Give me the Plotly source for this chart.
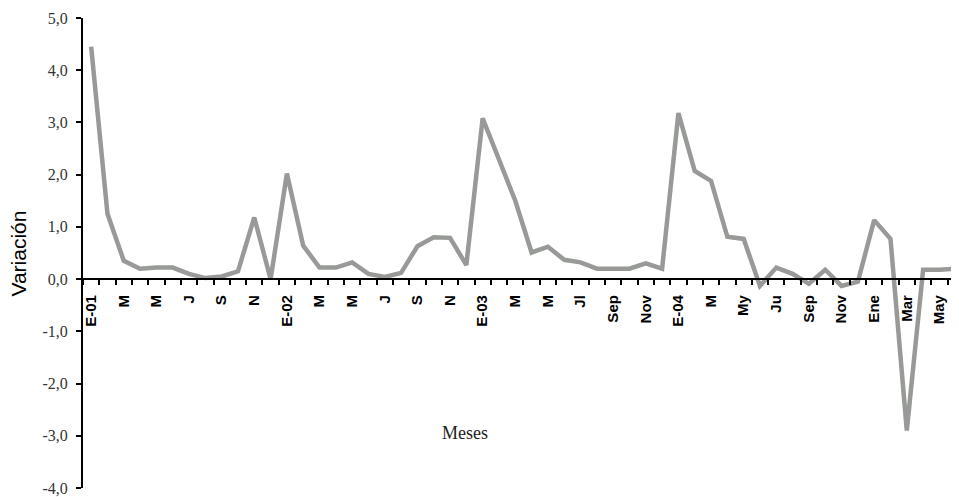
import plotly.graph_objects as go

# Monthly variation, Jan 2001 .. Jun 2005
values = [
    4.45, 1.25, 0.35, 0.20, 0.22, 0.22, 0.10, 0.02, 0.05, 0.15, 1.18, 0.00,   # 2001
    2.02, 0.64, 0.22, 0.22, 0.32, 0.10, 0.04, 0.12, 0.63, 0.80, 0.79, 0.27,   # 2002
    3.08, 2.30, 1.50, 0.51, 0.62, 0.37, 0.32, 0.20, 0.20, 0.20, 0.30, 0.20,   # 2003
    3.18, 2.07, 1.88, 0.81, 0.77, -0.13, 0.22, 0.10, -0.09, 0.18, -0.13, -0.05,  # 2004
    1.13, 0.77, -2.90, 0.18, 0.18, 0.20,                                      # 2005
]
month_index = list(range(len(values)))

# labels for every second month (Jan, Mar, May, ...)
tick_labels = ["E-01", "M", "M", "J", "S", "N",
               "E-02", "M", "M", "J", "S", "N",
               "E-03", "M", "M", "Jl", "Sep", "Nov",
               "E-04", "M", "My", "Ju", "Sep", "Nov",
               "Ene", "Mar", "May"]

# tick marks sit on the month boundaries; labels are shifted to the month centres
month_boundaries = [i - 0.5 for i in range(len(values) + 1)]
boundary_text = [tick_labels[i // 2] if (i % 2 == 0 and i // 2 < len(tick_labels)) else ""
                 for i in range(len(month_boundaries))]

y_ticks = [5, 4, 3, 2, 1, 0, -1, -2, -3, -4]
y_tick_labels = ["5,0", "4,0", "3,0", "2,0", "1,0", "0,0", "-1,0", "-2,0", "-3,0", "-4,0"]

fig = go.Figure()
fig.add_trace(go.Scatter(
    x=month_index, y=values, mode="lines",
    line=dict(color="#979a96", width=4.5),
    hoverinfo="skip", showlegend=False,
))

y_min, y_max = -4, 5
x_range = [-0.5, 53.2]
zero_pos = (0 - y_min) / (y_max - y_min)
px_per_month = 876 / (x_range[1] - x_range[0])

fig.update_layout(
    width=951, height=489,
    margin=dict(l=75, r=0, t=10, b=7),
    paper_bgcolor="white", plot_bgcolor="white",
    xaxis=dict(
        range=x_range,
        tickmode="array", tickvals=month_boundaries, ticktext=boundary_text,
        ticks="outside", ticklen=5, tickwidth=1.5, tickcolor="black",
        tickangle=-90,
        tickfont=dict(family="Arial", size=15, color="black", weight="bold"),
        ticklabelstandoff=4,
        ticklabelshift=int(round(px_per_month / 2)),
        ticklabeloverflow="allow",
        showline=True, linecolor="black", linewidth=2,
        showgrid=False, zeroline=False,
        anchor="free", position=zero_pos,
    ),
    yaxis=dict(
        range=[y_min, y_max],
        tickmode="array", tickvals=y_ticks, ticktext=y_tick_labels,
        ticks="outside", ticklen=5, tickwidth=1.5, tickcolor="black",
        tickfont=dict(family="Liberation Serif", size=16, color="#333333"),
        ticklabelstandoff=5,
        ticklabeloverflow="allow",
        showline=True, linecolor="black", linewidth=2,
        showgrid=False, zeroline=False,
    ),
    annotations=[
        dict(text="Variación", textangle=-90, xref="paper", yref="y",
             x=(10.5 - 75) / 876, y=0.48, xanchor="center", yanchor="middle",
             showarrow=False, font=dict(family="Arial", size=21, color="black")),
        dict(text="Meses", xref="x", yref="y", x=22.9, y=-2.95,
             showarrow=False, font=dict(family="Liberation Serif", size=18, color="#222222")),
    ],
)

fig.write_html("out.html")
